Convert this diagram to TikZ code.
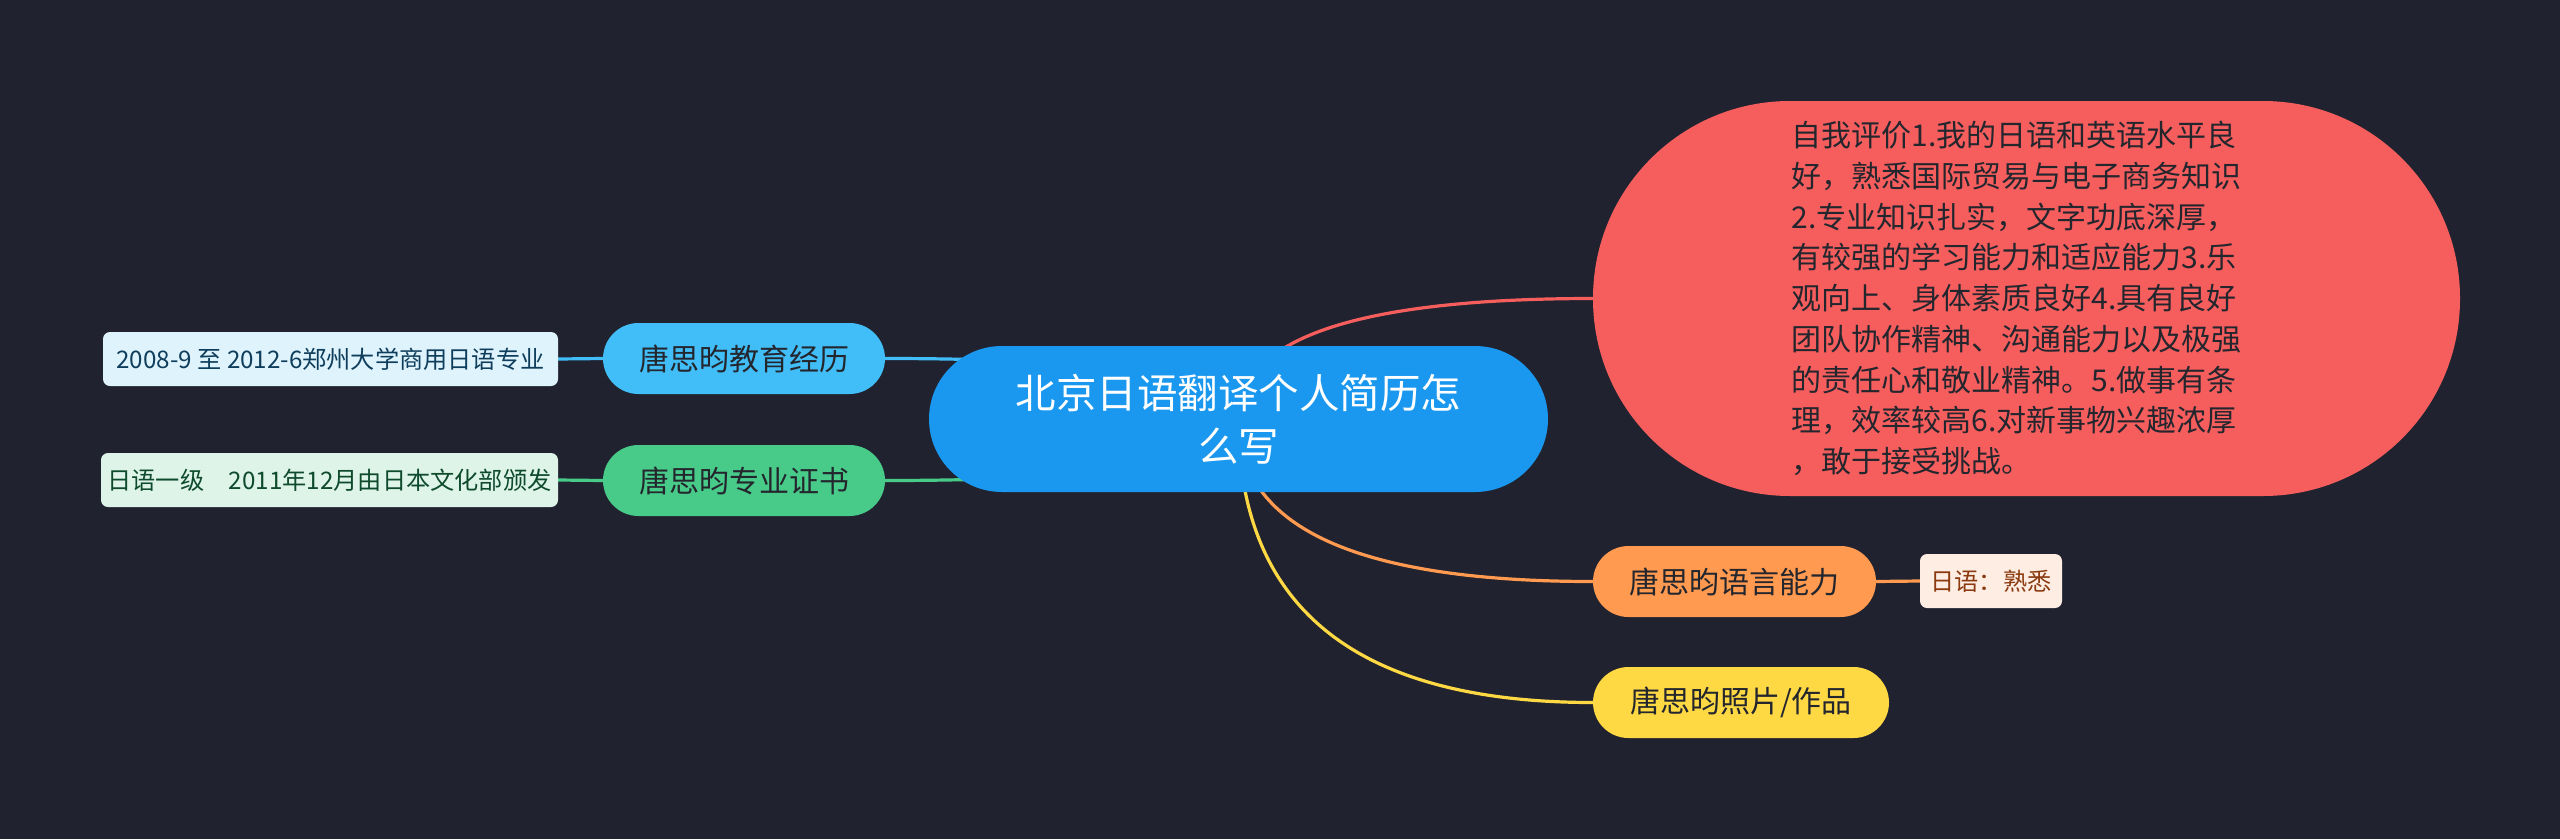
\documentclass[tikz,border=0pt]{standalone}
\usepackage{fontspec}
\setmainfont{Noto Sans CJK SC}
\usepackage{xcolor}
\usepackage{tikz}
\usetikzlibrary{calc, backgrounds}

\definecolor{bgdark}{HTML}{20232F}
\definecolor{rootblue}{HTML}{1A97EF}
\definecolor{redbranch}{HTML}{F65E5E}
\definecolor{bluebranch}{HTML}{41BEF8}
\definecolor{greenbranch}{HTML}{48CB89}
\definecolor{orangebranch}{HTML}{FF9A50}
\definecolor{yellowbranch}{HTML}{FFD944}
\definecolor{blueleaf}{HTML}{DFF3FD}
\definecolor{greenleaf}{HTML}{DEF4E8}
\definecolor{orangeleaf}{HTML}{FDEDE3}
\definecolor{darktext}{HTML}{24262E}
\definecolor{blueleaftext}{HTML}{0F3E5C}
\definecolor{greenleaftext}{HTML}{0E4A2C}
\definecolor{orangeleaftext}{HTML}{8B3A0F}

\tikzset{
  topic/.style={rounded corners=35.5pt, minimum width=282pt, minimum height=71pt, inner sep=0pt, text=darktext, font=\fontsize{30}{36}\selectfont},
  leaf/.style={rounded corners=7pt, minimum height=54pt, inner sep=0pt, font=\fontsize{24.2}{28}\selectfont},
  link/.style={line width=3.2pt},
  branchcurve/.style={to path={.. controls ($(\tikztostart)!2/3!(\tikztostart |- \tikztotarget)$) and ($(\tikztotarget)!2/3!(\tikztostart |- \tikztotarget)$) .. (\tikztotarget)}}
}

\begin{document}
\begin{tikzpicture}[x=1pt,y=-1pt]
\useasboundingbox (0,0) rectangle (2560,839);

\node[fill=rootblue, rounded corners=73pt, minimum width=619pt, minimum height=146pt, inner sep=0pt, text=white, align=center, font=\fontsize{40.5}{53}\selectfont] (root) at (1238.5,419) {北京日语翻译个人简历怎\\么写};

\node[fill=redbranch, rounded corners=197pt, minimum width=867pt, minimum height=395pt, inner sep=0pt, text width=470pt, align=left, text=darktext, font=\fontsize{30}{40.75}\selectfont] (selfeval) at (2026.5,298.5) {自我评价1.我的日语和英语水平良\\好，熟悉国际贸易与电子商务知识\\2.专业知识扎实，文字功底深厚，\\有较强的学习能力和适应能力3.乐\\观向上、身体素质良好4.具有良好\\团队协作精神、沟通能力以及极强\\的责任心和敬业精神。5.做事有条\\理，效率较高6.对新事物兴趣浓厚\\，敢于接受挑战。};

\node[topic, fill=bluebranch] (edu) at (744,358.5) {唐思昀教育经历};
\node[topic, fill=greenbranch] (cert) at (744,480.5) {唐思昀专业证书};
\node[topic, fill=orangebranch, minimum width=283pt] (lang) at (1734.5,581.5) {唐思昀语言能力};
\node[topic, fill=yellowbranch, minimum width=296pt] (photo) at (1741,702.5) {唐思昀照片/作品};

\node[leaf, fill=blueleaf, text=blueleaftext, minimum width=455pt] (eduleaf) at (330.5,359) {2008-9 至 2012-6郑州大学商用日语专业};
\node[leaf, fill=greenleaf, text=greenleaftext, minimum width=457pt] (certleaf) at (329.5,480) {日语一级\hspace{0.8em} 2011年12月由日本文化部颁发};
\node[leaf, fill=orangeleaf, text=orangeleaftext, minimum width=142pt] (langleaf) at (1991,581) {日语：熟悉};

\begin{scope}[on background layer]
\fill[bgdark] (0,0) rectangle (2560,839);
\draw[link, redbranch, branchcurve] (root.center) to (selfeval.west);
\draw[link, orangebranch, branchcurve] (root.center) to (lang.west);
\draw[link, yellowbranch, branchcurve] (root.center) to (photo.west);
\draw[link, bluebranch, branchcurve] (root.center) to (edu.east);
\draw[link, greenbranch, branchcurve] (root.center) to (cert.east);
\draw[link, bluebranch] (edu.west) -- (eduleaf.east);
\draw[link, greenbranch] (cert.west) -- (certleaf.east);
\draw[link, orangebranch] (lang.east) -- (langleaf.west);
\end{scope}
\end{tikzpicture}
\end{document}
